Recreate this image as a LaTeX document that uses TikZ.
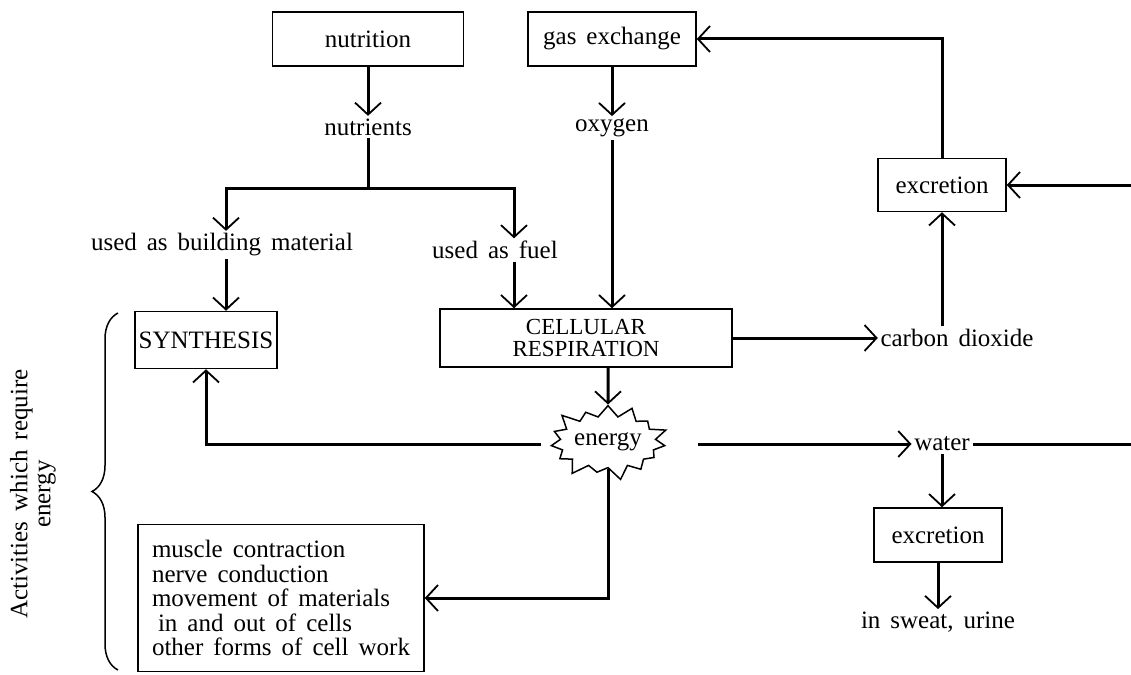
\documentclass[tikz,border=0pt]{standalone}
\usepackage{fontspec}
\setmainfont{Liberation Serif}[WordSpace=1.6]
\usetikzlibrary{arrows.meta,shapes.symbols,decorations.pathreplacing}

\begin{document}
\begin{tikzpicture}
[x=1pt, y=-1pt, line width=3pt, >={Straight Barb[length=12pt,width=26pt,line width=1.8pt]},
 every node/.style={font=\fontsize{25}{25}\selectfont, align=center, inner sep=2pt, line width=1.5pt},
 box/.style={draw, shape=rectangle, inner sep=0pt}]
\useasboundingbox (0,0) rectangle (1131,674);
\node (1) at (368,39) [box, minimum width=191pt, minimum height=54pt] {nutrition};
\node (2) at (612,39) [box, minimum width=168pt, minimum height=54pt] {gas exchange};
\node (3) at (368,127) {nutrients};
\node (4) at (612,128) {oxygen};
\node (5) at (222,245) {used as building material};
\node (6) at (495,250) {used as fuel};
\node (7) at (206,340) [box, minimum width=142pt, minimum height=57pt] {SYNTHESIS};
\node (8) at (586,338) [box, minimum width=292pt, minimum height=58pt,
                        font=\fontsize{23}{22}\selectfont] {CELLULAR\\
                                                             RESPIRATION};
\node (9) at (957,338) {carbon dioxide};
\node (10) at (608,442) [shape=starburst, draw, starburst points=15, starburst point height=15pt,
                         inner xsep=0pt, inner ysep=9pt] {energy};
\node (11) at (942,444) {water};
\node (12) at (942,185) [box, minimum width=128pt, minimum height=53pt] {excretion};
\node (13) at (938,535) [box, minimum width=128pt, minimum height=54pt] {excretion};
\node (14) at (938,622) {in sweat, urine};
\node (15) at (281,598) [box, minimum width=286pt, minimum height=147pt, align=left,
                         font=\fontsize{25}{24.5}\selectfont] {muscle contraction\\
                                                               nerve conduction\\
                                                               movement of materials\\
                                                               \hspace{6pt}in and out of cells\\
                                                               other forms of cell work};
\node (16) at (33,494) [rotate=90, font=\fontsize{25}{23}\selectfont] {Activities which require\\
                                                                       energy};
\coordinate (s) at (368,188);
\coordinate (b1) at (226,188);
\coordinate (b2) at (514,188);
\coordinate (r) at (1142,300);
\coordinate (t) at (118,313);
\coordinate (u) at (118,670);
\draw (3) -- (s);
\draw [->] (s) -| (b1 |- 5.north);
\draw [->] (s) -| (b2 |- 6.north);
\draw [->] (1) -- (3);
\draw [->] (2) -- (4);
\draw [->] (5.south -| b1) -- (7.north -| b1);
\draw [->] (6.south -| b2) -- (8.north -| b2);
\draw [->] (4) -- (8.north -| 4);
\draw [->] (12.north) |- (2.east);
\draw [->] (9.north -| 12) -- (12.south);
\draw [->] (8) -- (9);
\draw [->] (8.south -| 10) -- (10.north);
\draw [->, shorten <=14pt] (10.west |- 11) -| (7.south);
\draw [->, shorten <=37pt] (10.east |- 11) -- (11.west);
\draw [->] (11.east) -| (r) |- (12.east);
\draw [->] (11.south) -- (11.south |- 13.north);
\draw [->] (13) -- (14);
\draw [->] (10.south) |- (15.east);
\draw [decorate, decoration={brace, amplitude=26pt}, line width=1.5pt] (u) -- (t);
\end{tikzpicture}
\end{document}
